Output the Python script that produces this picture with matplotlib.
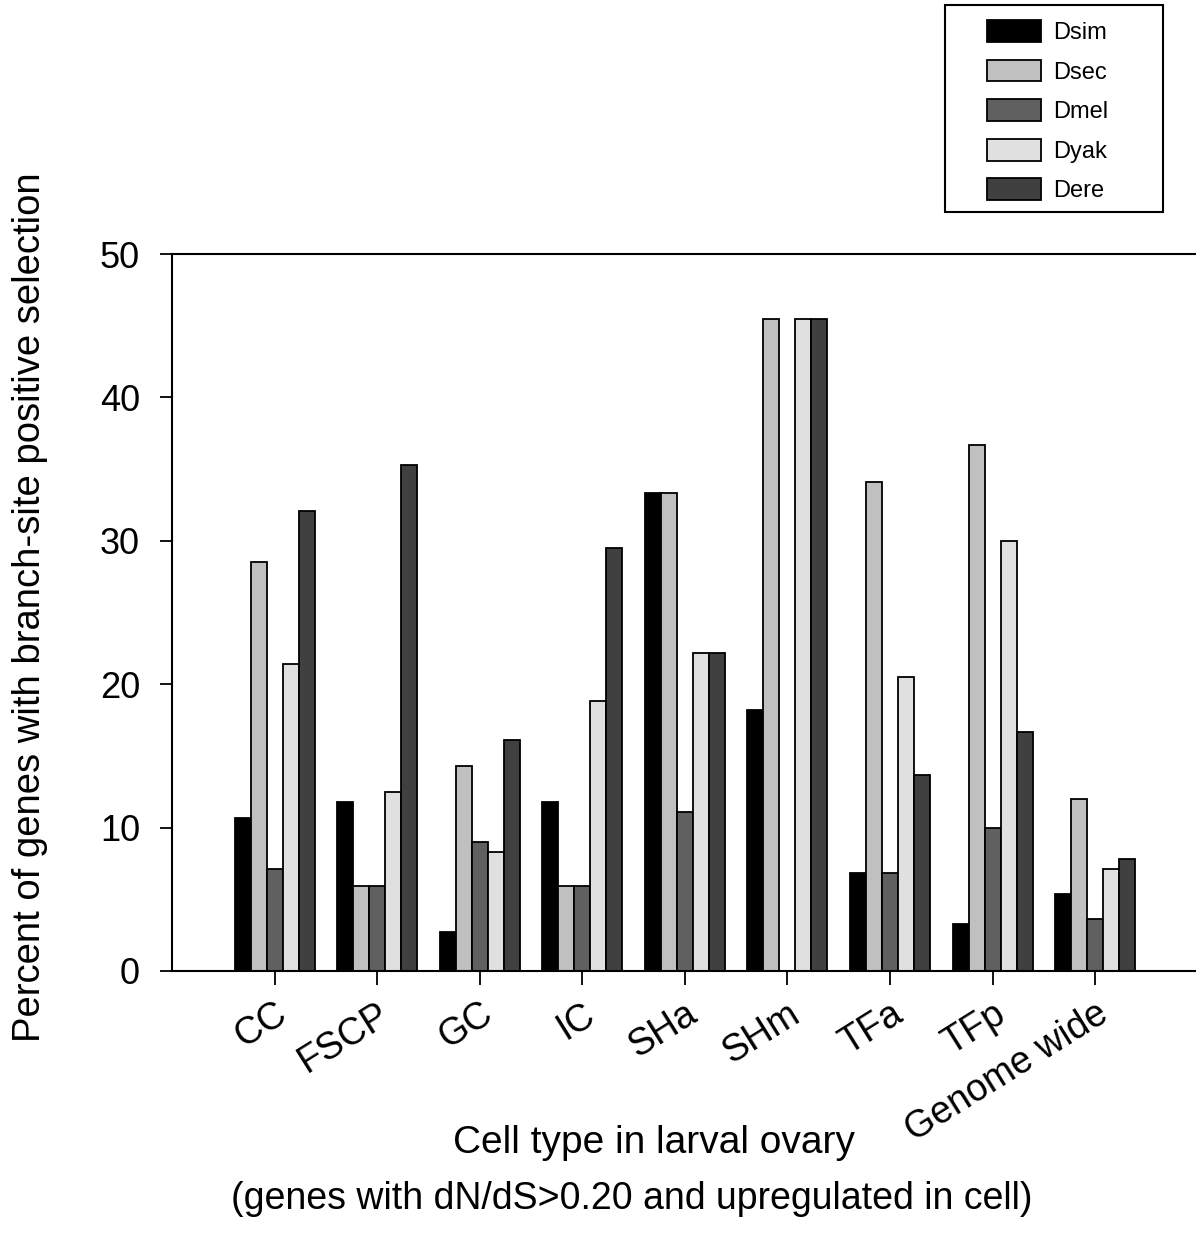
import matplotlib
matplotlib.use("Agg")
import matplotlib.pyplot as plt
from matplotlib.patches import Rectangle
import numpy as np

categories = ["CC", "FSCP", "GC", "IC", "SHa", "SHm", "TFa", "TFp", "Genome wide"]
species = ["Dsim", "Dsec", "Dmel", "Dyak", "Dere"]
dsim = [10.7, 11.8, 2.7, 11.8, 33.3, 18.2, 6.8, 3.3, 5.4]
dsec = [28.5, 5.9, 14.3, 5.9, 33.3, 45.5, 34.1, 36.7, 12.0]
dmel = [7.1, 5.9, 9.0, 5.9, 11.1, 0.0, 6.8, 10.0, 3.6]
dyak = [21.4, 12.5, 8.3, 18.8, 22.2, 45.5, 20.5, 30.0, 7.1]
dere = [32.1, 35.3, 16.1, 29.5, 22.2, 45.5, 13.7, 16.7, 7.8]
series = [dsim, dsec, dmel, dyak, dere]
colors = ["#000000", "#c0c0c0", "#606060", "#e0e0e0", "#404040"]

plt.rcParams['font.family'] = ['Liberation Sans', 'DejaVu Sans']

W, H = 1196, 1237
fig = plt.figure(figsize=(W / 100, H / 100), dpi=100)
ax = fig.add_axes([172 / W, 1 - 971 / H, (W - 172) / W + 0.01, (971 - 254) / H])

x = np.arange(1, len(categories) + 1)
bw = 0.156
for i, (vals, c, name) in enumerate(zip(series, colors, species)):
    ax.bar(x + (i - 2) * bw, vals, width=bw, color=c, edgecolor='black',
           linewidth=1.3, label=name)

ax.set_xlim(0, 10.1)
ax.set_ylim(0, 50)
ax.set_yticks([0, 10, 20, 30, 40, 50])
ax.set_xticks(x)
ax.set_xticklabels(categories, rotation=32, ha='right', rotation_mode='anchor',
                   fontsize=27)
ax.tick_params(axis='y', labelsize=26, length=9, width=1.3, direction='out', pad=14)
ax.tick_params(axis='x', length=10, width=1.3, direction='out', pad=8)
for s in ['left', 'top', 'bottom']:
    ax.spines[s].set_linewidth(1.5)
ax.spines['right'].set_visible(False)

fig.text(30 / W, 1 - 607 / H, "Percent of genes with branch-site positive selection",
         rotation=90, ha='center', va='center', fontsize=27.5)
fig.text(654 / W, 1 - 1143 / H, "Cell type in larval ovary",
         ha='center', va='center', fontsize=28)
fig.text(632 / W, 1 - 1199 / H, "(genes with dN/dS>0.20 and upregulated in cell)",
         ha='center', va='center', fontsize=27)

# legend frame and entries
fig.patches.append(Rectangle((945 / W, 1 - 212 / H), (1163 - 945) / W, (212 - 5) / H,
                             transform=fig.transFigure, fill=False,
                             edgecolor='black', linewidth=1.5))
leg = fig.legend(loc='upper left', bbox_to_anchor=(987 / W, 1 - 20 / H),
                 fontsize=17, handlelength=2.3, handleheight=1.05,
                 labelspacing=0.66, borderpad=0.0, handletextpad=0.5,
                 borderaxespad=0, frameon=False)

fig.savefig("out.png", dpi=100)
